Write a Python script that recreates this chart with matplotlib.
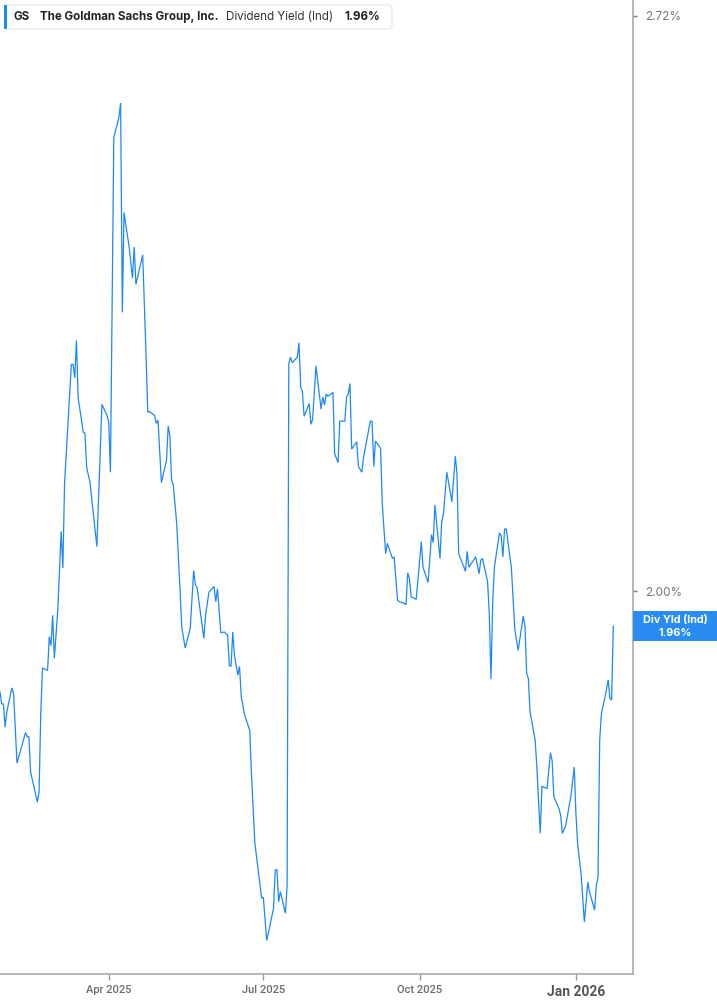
import matplotlib
matplotlib.use("Agg")
import matplotlib.pyplot as plt
import matplotlib.dates as mdates
from matplotlib.patches import FancyBboxPatch, Rectangle
import numpy as np

dates = [
"2025-01-27","2025-01-28","2025-01-29","2025-01-30","2025-01-31","2025-02-03","2025-02-04","2025-02-06",
"2025-02-11","2025-02-12","2025-02-13","2025-02-14","2025-02-18","2025-02-19","2025-02-20","2025-02-21",
"2025-02-24","2025-02-25","2025-02-26","2025-02-27","2025-02-28","2025-03-02","2025-03-04","2025-03-05",
"2025-03-06","2025-03-07","2025-03-08","2025-03-10","2025-03-11","2025-03-12","2025-03-13","2025-03-14",
"2025-03-16","2025-03-17","2025-03-18","2025-03-19","2025-03-21","2025-03-25","2025-03-28","2025-03-31",
"2025-04-01","2025-04-02","2025-04-04","2025-04-07","2025-04-08","2025-04-09","2025-04-10","2025-04-13",
"2025-04-15","2025-04-16","2025-04-17","2025-04-21","2025-04-23","2025-04-24","2025-04-25","2025-04-28",
"2025-04-29","2025-04-30","2025-05-02","2025-05-05","2025-05-06","2025-05-07","2025-05-08","2025-05-09",
"2025-05-11","2025-05-13","2025-05-14","2025-05-16","2025-05-19","2025-05-21","2025-05-22","2025-05-23",
"2025-05-27","2025-05-28","2025-05-30","2025-06-02","2025-06-03","2025-06-04","2025-06-06","2025-06-08",
"2025-06-10","2025-06-11","2025-06-12","2025-06-13","2025-06-14","2025-06-16","2025-06-17","2025-06-18",
"2025-06-20","2025-06-23","2025-06-24","2025-06-26","2025-06-30","2025-07-01","2025-07-03","2025-07-07",
"2025-07-08","2025-07-09","2025-07-10","2025-07-11","2025-07-14","2025-07-15","2025-07-16","2025-07-17",
"2025-07-18","2025-07-21","2025-07-22","2025-07-23","2025-07-24","2025-07-25","2025-07-28","2025-07-29",
"2025-07-30","2025-08-01","2025-08-04","2025-08-05","2025-08-06","2025-08-07","2025-08-08","2025-08-11",
"2025-08-12","2025-08-14","2025-08-15","2025-08-18","2025-08-19","2025-08-20","2025-08-21","2025-08-22",
"2025-08-25","2025-08-26","2025-08-28","2025-08-29","2025-09-02","2025-09-03","2025-09-04","2025-09-05",
"2025-09-08","2025-09-09","2025-09-11","2025-09-12","2025-09-15","2025-09-16","2025-09-18","2025-09-19",
"2025-09-22","2025-09-23","2025-09-24","2025-09-25","2025-09-26","2025-09-29","2025-10-02","2025-10-03",
"2025-10-06","2025-10-08","2025-10-09","2025-10-10","2025-10-13","2025-10-14","2025-10-15","2025-10-17",
"2025-10-20","2025-10-22","2025-10-23","2025-10-24","2025-10-28","2025-10-29","2025-10-30","2025-11-03",
"2025-11-05","2025-11-06","2025-11-07","2025-11-10","2025-11-11","2025-11-12","2025-11-13","2025-11-14",
"2025-11-17","2025-11-18","2025-11-19","2025-11-20","2025-11-21","2025-11-24","2025-11-26","2025-11-28",
"2025-12-01","2025-12-02","2025-12-03","2025-12-04","2025-12-05","2025-12-08","2025-12-09","2025-12-11",
"2025-12-12","2025-12-15","2025-12-17","2025-12-18","2025-12-19","2025-12-22","2025-12-23","2025-12-24",
"2025-12-26","2025-12-29","2025-12-31","2026-01-01","2026-01-02","2026-01-04","2026-01-06","2026-01-08",
"2026-01-09","2026-01-12","2026-01-13","2026-01-14","2026-01-15","2026-01-16","2026-01-18","2026-01-20",
"2026-01-21","2026-01-22","2026-01-23",
]

div_yield = [
1.874,1.859,1.859,1.830,1.849,1.879,1.872,1.785,
1.823,1.818,1.818,1.774,1.736,1.749,1.847,1.904,
1.901,1.943,1.932,1.970,1.916,1.976,2.075,2.029,
2.135,2.172,2.210,2.284,2.284,2.267,2.314,2.242,
2.214,2.199,2.198,2.155,2.136,2.056,2.234,2.220,
2.212,2.149,2.568,2.593,2.611,2.349,2.474,2.431,
2.392,2.431,2.384,2.421,2.293,2.224,2.225,2.220,
2.210,2.214,2.136,2.164,2.207,2.195,2.139,2.133,
2.085,2.001,1.955,1.929,1.954,2.026,2.008,2.005,
1.941,1.970,1.999,2.006,1.987,2.003,1.948,1.949,
1.945,1.907,1.906,1.949,1.920,1.895,1.906,1.868,
1.845,1.826,1.772,1.685,1.616,1.617,1.563,1.603,
1.651,1.652,1.611,1.624,1.597,1.632,2.285,2.293,
2.286,2.293,2.311,2.256,2.250,2.219,2.235,2.209,
2.215,2.282,2.228,2.243,2.233,2.247,2.244,2.249,
2.172,2.161,2.213,2.213,2.243,2.247,2.260,2.178,
2.187,2.156,2.149,2.168,2.213,2.213,2.156,2.188,
2.179,2.110,2.047,2.060,2.041,2.043,1.989,1.987,
1.985,1.983,2.023,2.016,1.993,1.990,2.062,2.030,
2.011,2.071,2.061,2.108,2.041,2.087,2.096,2.149,
2.112,2.169,2.147,2.047,2.025,2.050,2.030,2.043,
2.022,2.039,2.041,2.012,1.972,1.890,1.985,2.030,
2.073,2.070,2.043,2.078,2.078,2.030,1.953,1.926,
1.969,1.957,1.897,1.891,1.849,1.814,1.780,1.697,
1.756,1.753,1.798,1.788,1.743,1.728,1.720,1.697,
1.707,1.743,1.780,1.722,1.684,1.647,1.586,1.636,
1.624,1.601,1.632,1.642,1.814,1.847,1.866,1.889,
1.866,1.864,1.956,
]

x_tick_dates = ["2025-04-01", "2025-07-01", "2025-10-01", "2026-01-01"]
x_tick_labels = ["Apr 2025", "Jul 2025", "Oct 2025", "Jan 2026"]
y_ticks = [2.00, 2.72]
y_tick_labels = ["2.00%", "2.72%"]

ticker = "GS"
company = "The Goldman Sachs Group, Inc."
metric = "Dividend Yield (Ind)"
badge_name = "Div Yld (Ind)"

LINE = "#1e88f5"
GRAY = "#9a9a9a"

plt.rcParams['font.family'] = ['Inter', 'DejaVu Sans']

W, H = 717, 1005
fig = plt.figure(figsize=(W / 100, H / 100), dpi=100)
ax = fig.add_axes([0, 1 - 974 / H, 633 / W, 974 / H])

xd = mdates.datestr2num(dates)
ax.plot(xd, div_yield, color=LINE, lw=0.9, solid_joinstyle='miter')

ax.set_xlim(mdates.datestr2num("2025-01-27"), mdates.datestr2num("2026-02-03") + 0.6)
ax.set_ylim(1.521, 2.740)

for s in ["left", "top"]:
    ax.spines[s].set_visible(False)
for s in ["right", "bottom"]:
    ax.spines[s].set_color("#aaaaaa")
    ax.spines[s].set_linewidth(1.2)

ax.yaxis.tick_right()
ax.set_yticks(y_ticks)
ax.set_yticklabels(y_tick_labels)
ax.tick_params(axis='y', direction='out', length=3, width=1, color="#777777",
               labelsize=8.5, labelcolor="#777777", pad=6)

ax.set_xticks(mdates.datestr2num(x_tick_dates))
ax.set_xticklabels(x_tick_labels)
ax.tick_params(axis='x', direction='out', length=4, width=1, color=GRAY,
               labelsize=8, labelcolor="#6b6b6b", pad=4)
labs = ax.get_xticklabels()
for l in labs:
    l.set_family(['Roboto', 'DejaVu Sans'])
    l.set_fontweight('medium')
labs[-1].set_fontsize(10)
labs[-1].set_fontweight('bold')
labs[-1].set_color("#555555")

# header legend box
hb = FancyBboxPatch((5 / W, 1 - 29 / H), 387 / W, 24 / H,
                    boxstyle="round,pad=0,rounding_size=0.004",
                    transform=fig.transFigure, facecolor="white",
                    edgecolor="#e6e6e6", lw=0.8, zorder=5)
fig.patches.append(hb)
fig.patches.append(Rectangle((4 / W, 1 - 29 / H), 3 / W, 24 / H,
                             transform=fig.transFigure, facecolor=LINE,
                             edgecolor='none', zorder=6))
ty = 1 - 17 / H
hfs = 8.3
fig.text(14 / W, ty, ticker, fontsize=hfs, fontweight='bold', color="#222222", va='center', zorder=8)
fig.text(40 / W, ty, company, fontsize=hfs, fontweight='bold', color="#222222", va='center', zorder=8)
fig.text(226 / W, ty, metric, fontsize=hfs, color="#333333", va='center', zorder=8)
fig.text(344 / W, ty, f"{div_yield[-1]:.2f}%", fontsize=hfs, fontweight='bold', color="#222222",
         va='center', zorder=8)

# last value badge on right axis
last_y = div_yield[-1]
disp = ax.transData.transform((xd[-1], last_y))
fy = fig.transFigure.inverted().transform(disp)[1]
fig.patches.append(Rectangle((633 / W, fy - 15 / H), 84 / W, 30 / H,
                             transform=fig.transFigure, facecolor="#2a8cf0",
                             edgecolor='none', zorder=6))
fig.text(675 / W, fy + 6.5 / H, badge_name, fontsize=7.8, fontweight='bold',
         color='white', ha='center', va='center', zorder=8)
fig.text(675 / W, fy - 7 / H, f"{last_y:.2f}%", fontsize=7.8, fontweight='bold',
         color='white', ha='center', va='center', zorder=8)

fig.savefig("out.png", dpi=100)
